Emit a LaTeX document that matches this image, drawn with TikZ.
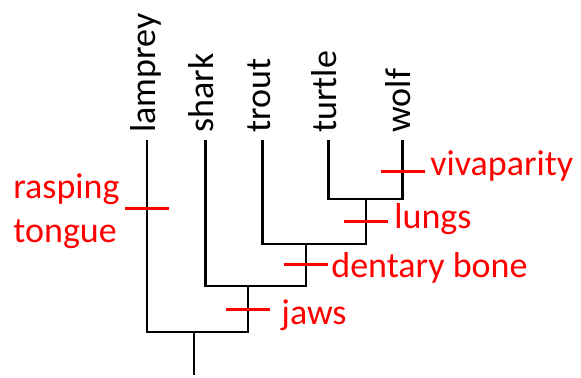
\documentclass[tikz,border=0pt]{standalone}
\usepackage{fontspec}
\setmainfont{Carlito}
\usepackage{xcolor}
\usepackage{tikz}
\usetikzlibrary{positioning}
\definecolor{traitred}{RGB}{255, 0, 0}
\definecolor{branchblack}{RGB}{0, 0, 0}

\begin{document}
\begin{tikzpicture}[
    x=0.5pt, y=-0.5pt,
    taxon/.style={rotate=90, anchor=west, inner sep=3.5pt, text height=8pt, text depth=0pt,
                  font=\fontsize{18}{22}\selectfont, color=branchblack},
    branch/.style={line width=1.4pt, color=branchblack, line join=miter},
    trait/.style={line width=1.5pt, color=traitred},
    traitlabel/.style={anchor=base west, inner sep=0pt, align=left,
                       font=\fontsize{18}{22}\selectfont, color=traitred}
]
\useasboundingbox (0,0) rectangle (581,377);

% taxa
\node[taxon] (lamprey) at (147,140) {lamprey};
\node[taxon] (shark) at (205.5,140) {shark};
\node[taxon] (trout) at (262.5,140) {trout};
\node[taxon] (turtle) at (328.5,140) {turtle};
\node[taxon] (wolf) at (402.5,140) {wolf};

% internal nodes
\coordinate (base) at (194,375);
\coordinate (n0) at (194,332);
\coordinate (n1) at (248,286);
\coordinate (n2) at (306,244);
\coordinate (n3) at (366,199);

\draw[branch] (base) -- (n0);
\draw[branch] (lamprey.west) |- (n0) -| (n1);
\draw[branch] (shark.west) |- (n1) -| (n2);
\draw[branch] (trout.west) |- (n2) -| (n3);
\draw[branch] (turtle.west) |- (n3) -| (wolf.west);

% characters
\coordinate (cTongue) at (147,208.5);
\coordinate (cJaws) at (248,309.5);
\coordinate (cDentary) at (306,264.5);
\coordinate (cLungs) at (366,221);
\coordinate (cVivi) at (402.5,171.5);

\foreach \c in {cTongue, cJaws, cDentary, cLungs, cVivi}
    \draw[trait] (\c) ++(-22,0) -- ++(44,0);

\node[traitlabel] (lTongue) at (13,242) {rasping\\tongue};
\node[traitlabel] (lJaws) at (281,324) {jaws};
\node[traitlabel] (lDentary) at (331,277.5) {dentary bone};
\node[traitlabel] (lLungs) at (394,228.5) {lungs};
\node[traitlabel] (lVivi) at (430,175.5) {vivaparity};

\end{tikzpicture}
\end{document}
